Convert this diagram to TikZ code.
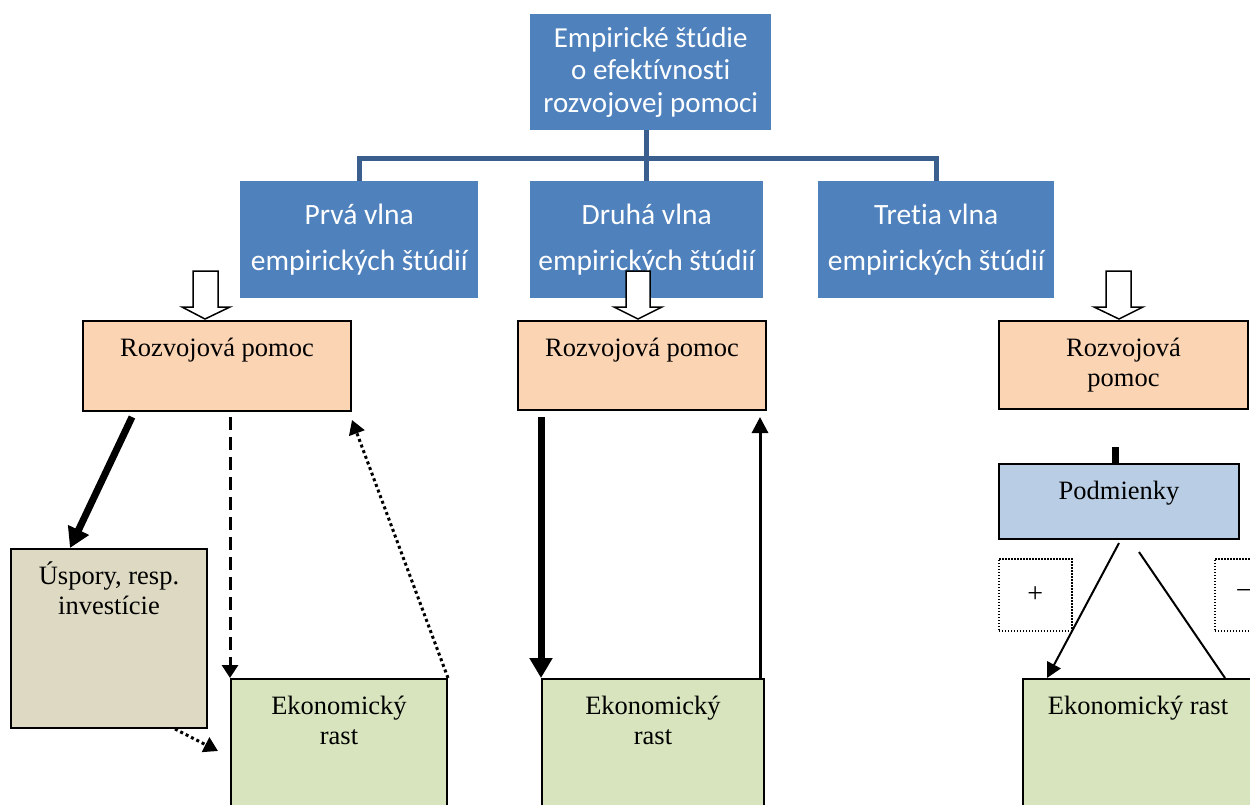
\documentclass[tikz,border=0pt]{standalone}
\usepackage{fontspec}
\setmainfont{Liberation Serif}
\newfontfamily\calib[Ligatures={NoCommon,NoRare}]{Carlito}
\usetikzlibrary{arrows.meta,calc}
\definecolor{bfill}{RGB}{79,129,189}
\definecolor{bline}{RGB}{58,95,142}
\definecolor{peach}{RGB}{251,212,180}
\definecolor{tanbox}{RGB}{221,217,195}
\definecolor{lgreen}{RGB}{215,228,189}
\definecolor{lblue}{RGB}{185,205,229}
\newcommand\tbox[3]{\parbox[c][#1][t]{#2}{\centering\rule{0pt}{35pt}#3}}
\tikzset{
  bluebox/.style={fill=bfill, text=white, inner sep=0pt, anchor=north west, align=center},
  sbox/.style={draw=black, line width=2pt, inner sep=0pt, anchor=north west, font=\fontsize{26.5}{30}\selectfont},
  dotbox/.style={draw=black, line width=1.5pt, dash pattern=on 1.5pt off 1.5pt, inner sep=0pt, anchor=north west, font=\fontsize{28}{30}\selectfont},
  conn/.style={draw=bline, line width=5pt},
  hollow/.style={draw=black, fill=white, line width=1.5pt, line join=miter},
  fatarrow/.style={line width=7pt, -{Triangle[length=20pt,width=22pt]}},
  thinarrow/.style={line width=3pt, -{Triangle[length=16pt,width=16pt]}},
  dasharrow/.style={line width=3pt, dash pattern=on 13pt off 7pt, -{Triangle[length=13pt,width=16pt]}},
  dotarrow/.style={line width=3pt, dash pattern=on 3pt off 3pt, -{Triangle[length=14pt,width=16pt]}},
  slimarrow/.style={line width=2pt, -{Triangle[length=15pt,width=15pt]}},
}
\begin{document}
\begin{tikzpicture}[x=1pt,y=-1pt]
\useasboundingbox (0,0) rectangle (1250,804);
\clip (0,0) rectangle (1250,804);
\fill[white] (0,0) rectangle (1250,804);

% blue hierarchy
\node[bluebox, minimum width=241pt, minimum height=116pt, font=\calib\fontsize{29}{32.5}\selectfont] (top) at (530,14) {Empirické štúdie\\o efektívnosti\\rozvojovej pomoci};
\node[bluebox, minimum width=238pt, minimum height=117pt, font=\calib\fontsize{29.5}{46}\selectfont] (prva) at (240,181) {Prvá vlna\\empirických štúdií};
\node[bluebox, minimum width=233pt, minimum height=117pt, font=\calib\fontsize{29.5}{46}\selectfont] (druha) at (530,181) {Druhá vlna\\empirických štúdií};
\node[bluebox, minimum width=236pt, minimum height=117pt, font=\calib\fontsize{29.5}{46}\selectfont] (tretia) at (818,181) {Tretia vlna\\empirických štúdií};
\draw[conn] (prva.north) -- ++(0,-23) -| (tretia.north);
\draw[conn] (druha.north) -- (druha.north |- top.south);

% boxes
\node[sbox, fill=peach] (rpA) at (82,320) {\tbox{90pt}{268pt}{Rozvojová pomoc}};
\node[sbox, fill=peach] (rpB) at (517,320) {\tbox{89pt}{248pt}{Rozvojová pomoc}};
\node[sbox, fill=peach] (rpC) at (998,320) {\tbox{88pt}{249pt}{Rozvojová\\pomoc}};
\node[sbox, fill=tanbox] (usp) at (10,548) {\tbox{179pt}{196pt}{Úspory, resp.\\investície}};
\node[sbox, fill=lgreen] (ek1) at (230,678) {\tbox{150pt}{216pt}{Ekonomický\\rast}};
\node[sbox, fill=lgreen] (ek2) at (541,678) {\tbox{150pt}{222pt}{Ekonomický\\rast}};
\node[sbox, fill=lgreen] (ek3) at (1022,678) {\tbox{150pt}{230pt}{Ekonomický rast}};
\node[sbox, fill=lblue] (podm) at (998,463) {\tbox{75pt}{240pt}{Podmienky}};
\node[dotbox, minimum width=73pt, minimum height=72pt] (plus) at (998,558) {+};
\node[dotbox, minimum width=58pt, minimum height=72pt] (minus) at (1214,558) {−};

% hollow arrows
\draw[hollow] (193,271) -- (218,271) -- (218,307) -- (230,307) -- (205,319) -- (182,307) -- (193,307) -- cycle;
\draw[hollow] (626,271) -- (650,271) -- (650,307) -- (662,307) -- (638,319) -- (614,307) -- (626,307) -- cycle;
\draw[hollow] (1106,271) -- (1131,271) -- (1131,307) -- (1143,307) -- (1119,319) -- (1094,307) -- (1106,307) -- cycle;

% first wave
\draw[fatarrow] ([shift={(50,5)}]rpA.south west) -- ([xshift=60pt]usp.north west);
\draw[dasharrow] ([yshift=-5pt]ek1.north west |- rpA.south) -- (ek1.north west);
\draw[dotarrow] (ek1.north east) -- ([shift={(0,8)}]rpA.south east);
\draw[dotarrow] ([xshift=-33pt]usp.south east) -- ([shift={(-12,73)}]ek1.north west);

% second wave
\draw[fatarrow] ([shift={(24,6)}]rpB.south west) -- (ek2.north west);
\draw[thinarrow] ([xshift=-5pt]ek2.north east) -- ([shift={(-7,6)}]rpB.south east);

% third wave
\coordinate (stub) at (1115,447);
\draw[line width=7pt] (stub) -- (stub |- podm.north);
\draw[slimarrow] ([yshift=-3pt]podm.south) -- ([xshift=25pt]ek3.north west);
\draw[line width=2pt] ([shift={(20,12)}]podm.south) -- ([xshift=203pt]ek3.north west);
\end{tikzpicture}
\end{document}
